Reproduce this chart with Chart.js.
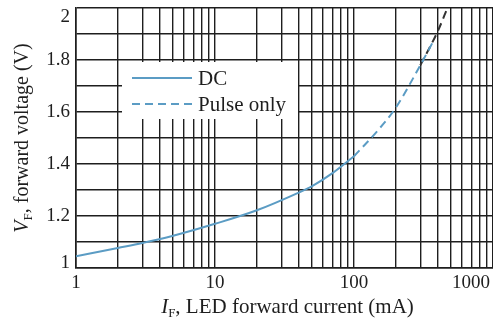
<!DOCTYPE html>
<html>
<head>
<meta charset="utf-8">
<script src="https://cdn.jsdelivr.net/npm/chart.js@4.4.1/dist/chart.umd.min.js"></script>
<style>
html, body { margin: 0; padding: 0; background: #fff; }
canvas { display: block; }
</style>
</head>
<body>
<canvas id="vfChart" width="493" height="323"></canvas>
<script>
// LED forward voltage vs forward current
const dcCurrent = [1, 2, 3, 5, 10, 20, 40, 50, 70, 100];
const dcVoltage = [1.045, 1.077, 1.096, 1.124, 1.17, 1.222, 1.29, 1.315, 1.365, 1.43];
const pulseCurrent = [100, 150, 200, 300, 370];
const pulseVoltage = [1.43, 1.532, 1.617, 1.78, 1.87];
const pulseTopCurrent = [300, 400, 470];
const pulseTopVoltage = [1.78, 1.91, 2.0];

const xGridTicks = [1, 2, 3, 4, 5, 6, 7, 8, 9, 10, 20, 30, 40, 50, 60, 70, 80, 90,
    100, 200, 300, 400, 500, 600, 700, 800, 900, 1000];
const xTickLabels = [1, 10, 100, 1000];
const yGridTicks = [1, 1.1, 1.2, 1.3, 1.4, 1.5, 1.6, 1.7, 1.8, 1.9, 2];
const yTickLabels = [1, 1.2, 1.4, 1.6, 1.8, 2];

const blue = '#5b9cc4';
const ink = '#1e1e1e';
const serif = '"Liberation Serif", "DejaVu Serif", serif';

function toPoints(xs, ys) {
    return xs.map((x, i) => ({ x: x, y: ys[i] }));
}

const textPlugin = {
    id: 'textPlugin',
    afterDraw(chart) {
        const ctx = chart.ctx;
        const area = chart.chartArea;
        const x = chart.scales.x;
        const y = chart.scales.y;
        ctx.save();
        ctx.fillStyle = ink;
        ctx.font = '19px ' + serif;

        // y tick labels (kept inside the plot box at the ends)
        ctx.textAlign = 'right';
        ctx.textBaseline = 'middle';
        yTickLabels.forEach(v => {
            let py = y.getPixelForValue(v);
            py = Math.min(Math.max(py, area.top + 9), area.bottom - 5);
            ctx.fillText(String(v), area.left - 6, py);
        });

        // x tick labels
        ctx.textAlign = 'center';
        ctx.textBaseline = 'top';
        xTickLabels.forEach(v => {
            const w = ctx.measureText(String(v)).width;
            let px = x.getPixelForValue(v);
            px = Math.min(px, chart.width - w / 2 - 3);
            ctx.fillText(String(v), px, area.bottom + 6);
        });

        // axis titles with subscripts
        function richWidth(parts) {
            let w = 0;
            parts.forEach(p => { ctx.font = p.font; w += ctx.measureText(p.t).width; });
            return w;
        }
        function drawRich(parts, cx, cy) {
            ctx.textAlign = 'left';
            ctx.textBaseline = 'alphabetic';
            let px = cx - richWidth(parts) / 2;
            parts.forEach(p => {
                ctx.font = p.font;
                ctx.fillText(p.t, px, cy + (p.dy || 0));
                px += ctx.measureText(p.t).width;
            });
        }
        const xTitle = [
            { t: 'I', font: 'italic 21px ' + serif },
            { t: 'F', font: '13px ' + serif, dy: 4 },
            { t: ', LED forward current (mA)', font: '21px ' + serif }
        ];
        drawRich(xTitle, (area.left + area.right) / 2 + 3, 313);

        const yTitle = [
            { t: 'V', font: 'italic 20px ' + serif },
            { t: 'F', font: '13px ' + serif, dy: 4 },
            { t: ', forward voltage (V)', font: '20px ' + serif }
        ];
        ctx.save();
        ctx.translate(28, (area.top + area.bottom) / 2);
        ctx.rotate(-Math.PI / 2);
        drawRich(yTitle, 0, 0);
        ctx.restore();

        // legend box
        ctx.fillStyle = '#fff';
        ctx.fillRect(122, 62, 176, 57);
        ctx.lineWidth = 2;
        ctx.strokeStyle = blue;
        ctx.beginPath();
        ctx.moveTo(132, 78);
        ctx.lineTo(192, 78);
        ctx.stroke();
        ctx.setLineDash([8, 5]);
        ctx.beginPath();
        ctx.moveTo(132, 104);
        ctx.lineTo(192, 104);
        ctx.stroke();
        ctx.setLineDash([]);
        ctx.fillStyle = ink;
        ctx.font = '21px ' + serif;
        ctx.textAlign = 'left';
        ctx.textBaseline = 'middle';
        ctx.fillText(chart.data.datasets[0].label, 198, 79);
        ctx.fillText(chart.data.datasets[1].label, 198, 105);
        ctx.restore();
    }
};

const ctx = document.getElementById('vfChart').getContext('2d');
const vfChart = new Chart(ctx, {
    type: 'line',
    data: {
        datasets: [{
            label: 'DC',
            data: toPoints(dcCurrent, dcVoltage),
            borderColor: blue,
            borderWidth: 2,
            pointRadius: 0,
            cubicInterpolationMode: 'monotone',
            order: 1
        }, {
            label: 'Pulse only',
            data: toPoints(pulseCurrent, pulseVoltage),
            borderColor: blue,
            borderWidth: 2,
            borderDash: [8, 5],
            pointRadius: 0,
            cubicInterpolationMode: 'monotone',
            order: 1
        }, {
            label: 'Pulse only (top)',
            data: toPoints(pulseTopCurrent, pulseTopVoltage),
            borderColor: '#333',
            borderWidth: 2,
            borderDash: [8, 5],
            pointRadius: 0,
            cubicInterpolationMode: 'monotone',
            order: 2
        }]
    },
    options: {
        responsive: false,
        animation: false,
        devicePixelRatio: 1,
        layout: { padding: { top: 8, right: 0, left: 0, bottom: 0 } },
        plugins: {
            legend: { display: false },
            tooltip: { enabled: false }
        },
        scales: {
            x: {
                type: 'logarithmic',
                min: 1,
                max: 1000,
                ticks: { display: false },
                grid: { color: ink, lineWidth: 1.4, drawTicks: false },
                border: { color: ink, width: 1.6 },
                afterBuildTicks: scale => {
                    scale.ticks = xGridTicks.map(v => ({ value: v }));
                },
                afterFit: scale => {
                    scale.height = 55;
                    scale.paddingLeft = 0;
                    scale.paddingRight = 0;
                }
            },
            y: {
                type: 'linear',
                min: 1,
                max: 2,
                ticks: { display: false },
                grid: { color: ink, lineWidth: 1.4, drawTicks: false },
                border: { color: ink, width: 1.6 },
                afterBuildTicks: scale => {
                    scale.ticks = yGridTicks.map(v => ({ value: v }));
                },
                afterFit: scale => {
                    scale.width = 76;
                    scale.paddingTop = 0;
                    scale.paddingBottom = 0;
                }
            }
        }
    },
    plugins: [textPlugin]
});
</script>
</body>
</html>
